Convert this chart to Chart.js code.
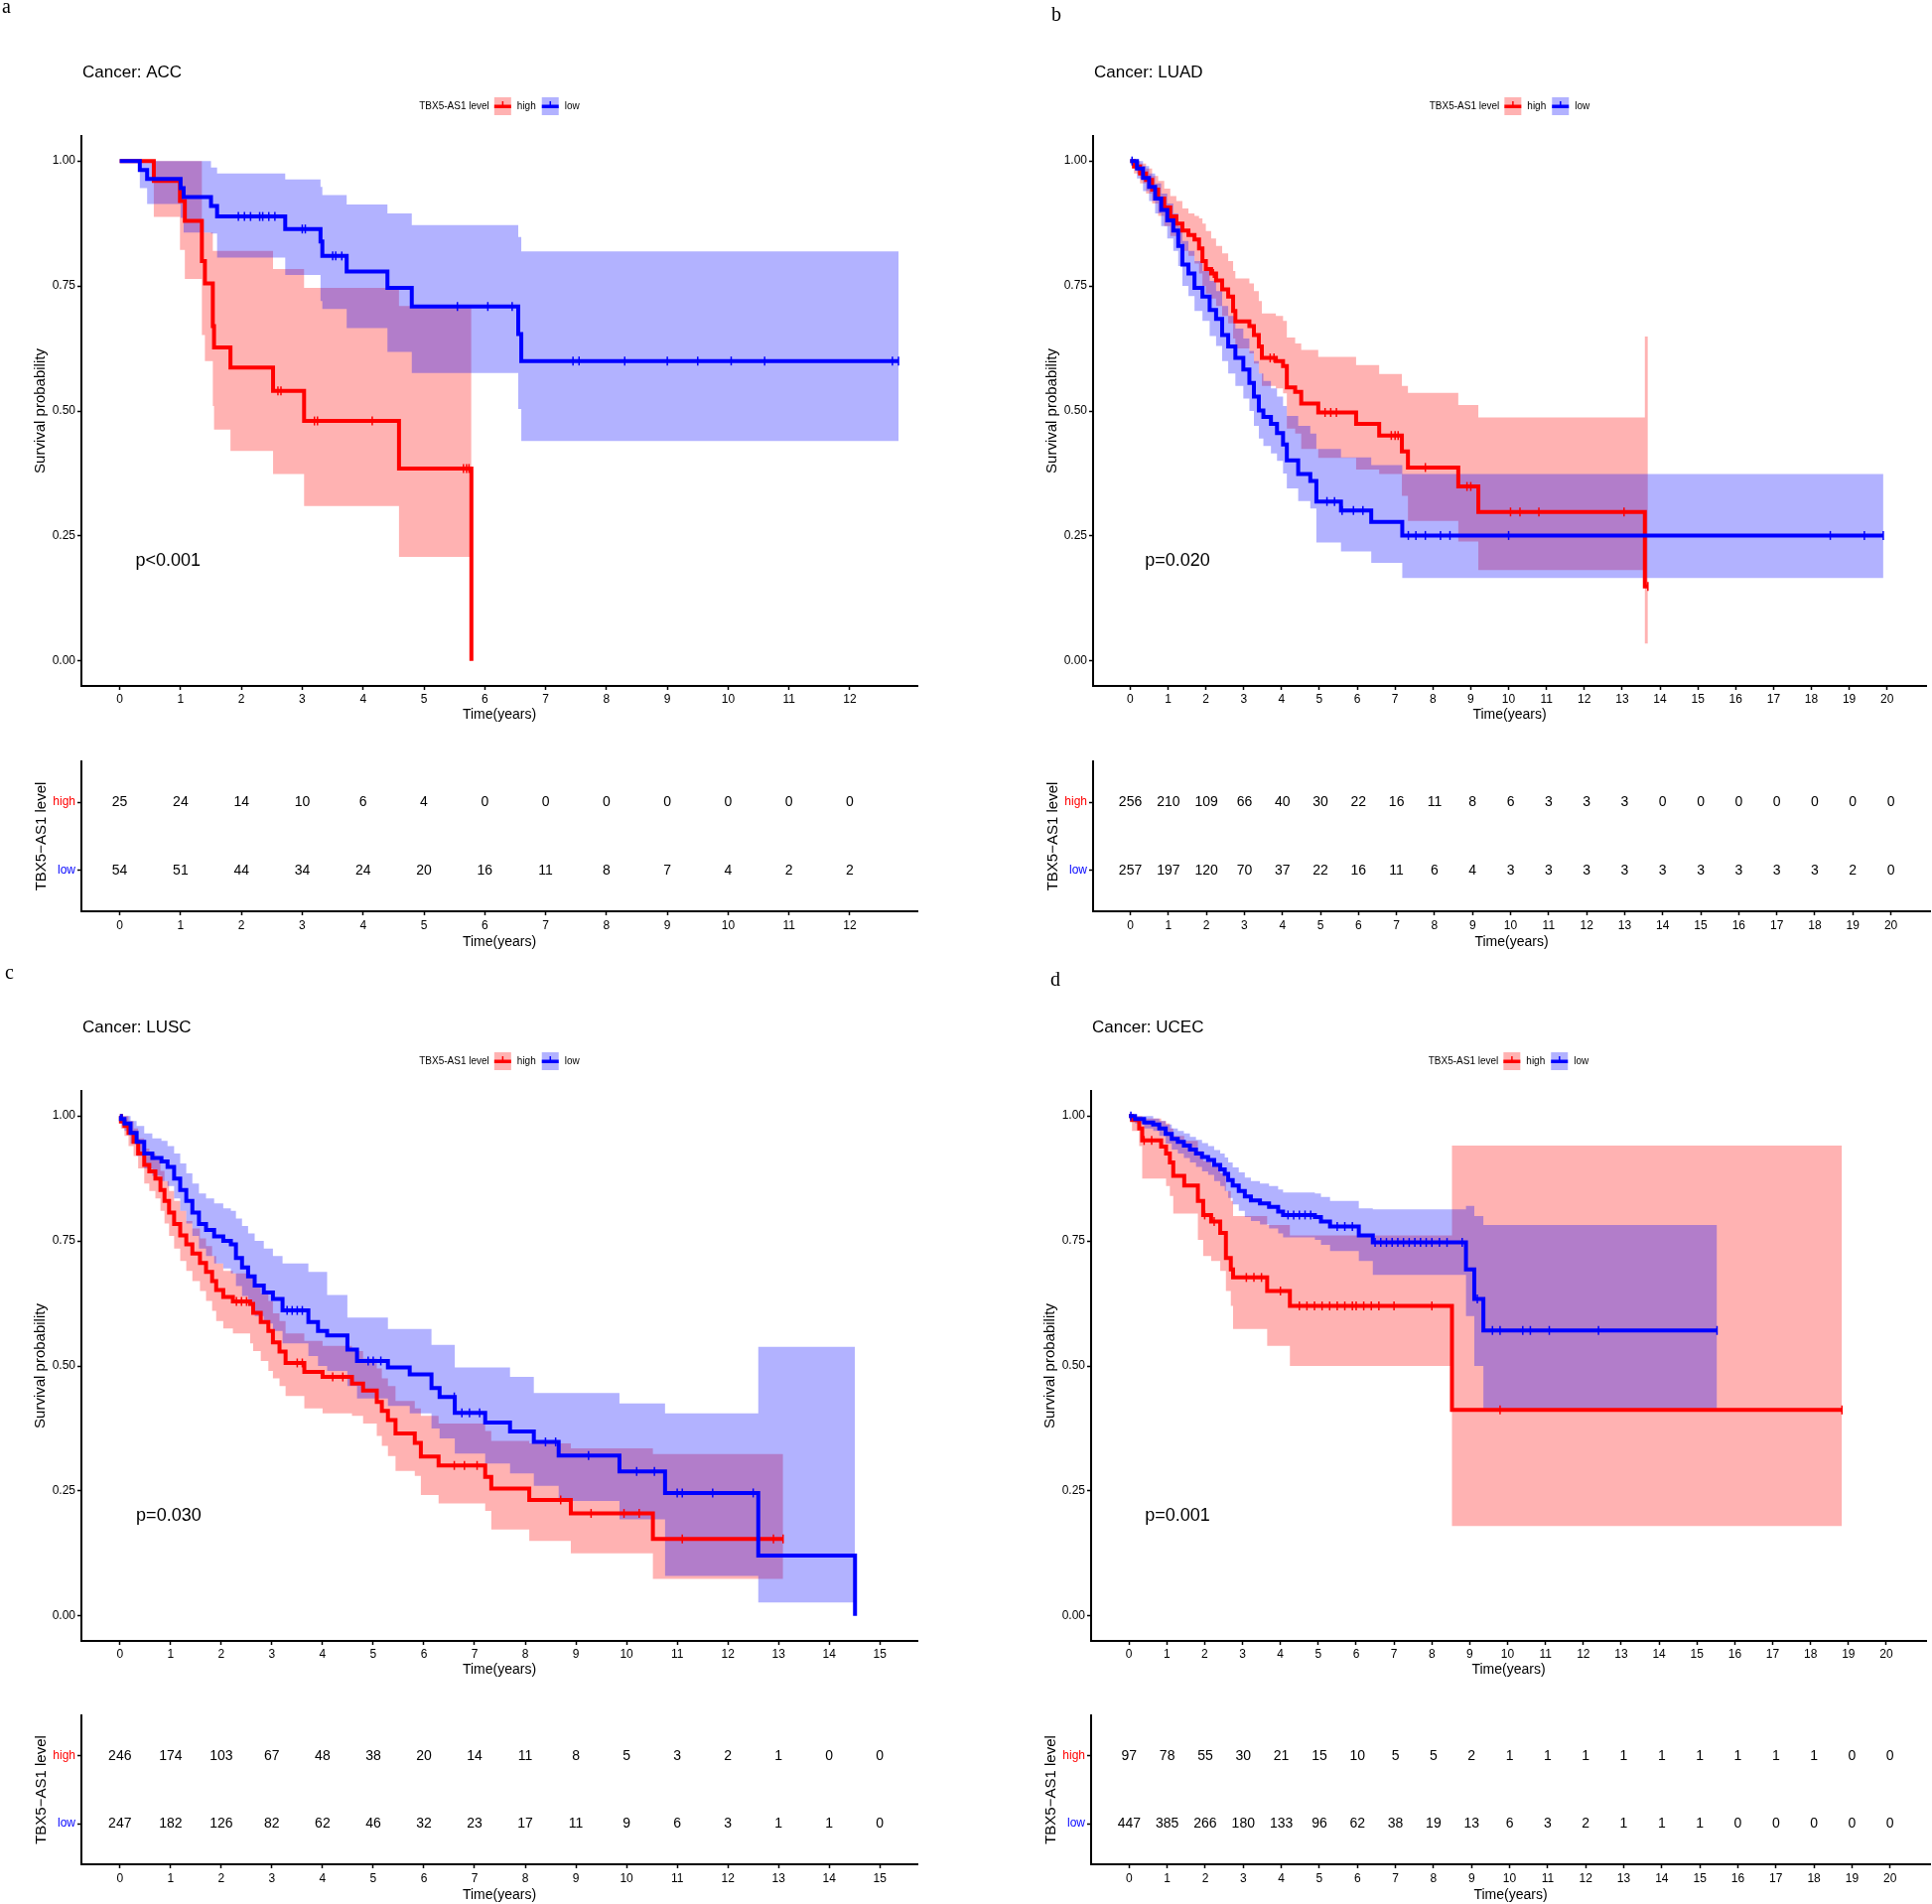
<!DOCTYPE html>
<html>
<head>
<meta charset="utf-8">
<title>TBX5-AS1 level and survival</title>
<script src="https://cdn.jsdelivr.net/npm/chart.js@4.4.1/dist/chart.umd.min.js"></script>
<style>
  html, body { margin: 0; padding: 0; background: #fff; }
  #page { position: relative; width: 1946px; height: 1918px; overflow: hidden; background: #fff; }
  #page canvas { position: absolute; }
</style>
</head>
<body>
<div id="page"></div>
<script>
// ---------- data ----------
const survTicks = [0, 0.25, 0.5, 0.75, 1];

// ACC
const accYears = [0, 1, 2, 3, 4, 5, 6, 7, 8, 9, 10, 11, 12];
const accHighTime = [0, 0.56, 0.99, 1.07, 1.35, 1.4, 1.53, 1.55, 1.82, 2.52, 3.03, 4.59, 5.78];
const accHighSurv = [1, 0.96, 0.92, 0.88, 0.8, 0.755, 0.67, 0.627, 0.587, 0.54, 0.48, 0.385, 0];
const accHighUpper = [1, 1, 1, 1, 0.857, 0.857, 0.82, 0.82, 0.82, 0.784, 0.746, 0.71, 0.71];
const accHighLower = [1, 0.888, 0.822, 0.764, 0.652, 0.6, 0.51, 0.463, 0.42, 0.374, 0.31, 0.208, 0.208];
const accHighCensor = [2.6, 2.65, 3.2, 3.25, 4.15, 5.65, 5.7, 5.74];
const accLowTime = [0, 0.33, 0.45, 1.0, 1.05, 1.5, 1.6, 2.72, 3.3, 3.33, 3.73, 4.4, 4.8, 6.55, 6.6, 12.8];
const accLowSurv = [1, 0.982, 0.964, 0.946, 0.928, 0.91, 0.889, 0.864, 0.839, 0.81, 0.779, 0.746, 0.709, 0.654, 0.6, 0.6];
const accLowUpper = [1, 1, 1, 1, 1, 0.987, 0.975, 0.963, 0.948, 0.932, 0.913, 0.895, 0.872, 0.848, 0.819, 0.819];
const accLowLower = [1, 0.946, 0.914, 0.886, 0.857, 0.855, 0.807, 0.772, 0.72, 0.704, 0.666, 0.618, 0.576, 0.504, 0.44, 0.44];
const accLowCensor = [1.95, 2.05, 2.15, 2.3, 2.35, 2.45, 2.55, 3.0, 3.05, 3.5, 3.55, 3.65, 5.55, 6.05, 6.45, 7.45, 7.55, 8.3, 9.0, 9.5, 10.05, 10.6, 12.7, 12.8];
const accRiskHigh = [25, 24, 14, 10, 6, 4, 0, 0, 0, 0, 0, 0, 0];
const accRiskLow = [54, 51, 44, 34, 24, 20, 16, 11, 8, 7, 4, 2, 2];

// LUAD
const luadYears = [0, 1, 2, 3, 4, 5, 6, 7, 8, 9, 10, 11, 12, 13, 14, 15, 16, 17, 18, 19, 20];
const luadHighTime = [0, 0.1, 0.26, 0.42, 0.58, 0.74, 0.9, 1.06, 1.22, 1.38, 1.54, 1.7, 1.82, 1.91, 2.0, 2.14, 2.27, 2.43, 2.59, 2.72, 2.78, 3.15, 3.27, 3.4, 3.48, 3.85, 4.04, 4.14, 4.36, 4.52, 4.97, 5.97, 6.58, 7.18, 7.34, 8.67, 9.2, 13.6, 13.68];
const luadHighSurv = [1, 0.989, 0.975, 0.962, 0.943, 0.925, 0.907, 0.889, 0.875, 0.861, 0.852, 0.843, 0.825, 0.8, 0.784, 0.775, 0.761, 0.743, 0.729, 0.7, 0.679, 0.67, 0.652, 0.629, 0.606, 0.6, 0.59, 0.547, 0.538, 0.515, 0.497, 0.474, 0.451, 0.419, 0.387, 0.349, 0.298, 0.149, 0.149];
const luadHighUpper = [1, 1, 0.995, 0.985, 0.97, 0.96, 0.945, 0.93, 0.92, 0.905, 0.895, 0.89, 0.885, 0.875, 0.86, 0.845, 0.83, 0.815, 0.8, 0.78, 0.765, 0.755, 0.74, 0.72, 0.695, 0.69, 0.68, 0.647, 0.635, 0.622, 0.608, 0.592, 0.574, 0.55, 0.536, 0.512, 0.487, 0.649, 0.649];
const luadHighLower = [1, 0.975, 0.955, 0.935, 0.915, 0.89, 0.87, 0.85, 0.835, 0.82, 0.81, 0.795, 0.775, 0.75, 0.735, 0.725, 0.71, 0.69, 0.675, 0.645, 0.625, 0.615, 0.595, 0.575, 0.55, 0.545, 0.535, 0.465, 0.455, 0.424, 0.406, 0.383, 0.374, 0.33, 0.28, 0.239, 0.182, 0.035, 0.035];
const luadHighCensor = [2.2, 3.7, 3.8, 5.15, 5.3, 5.45, 6.9, 7.0, 7.08, 7.8, 8.9, 9.0, 10.05, 10.3, 10.8, 13.05, 13.68];
const luadLowTime = [0, 0.05, 0.18, 0.34, 0.5, 0.66, 0.82, 0.98, 1.14, 1.27, 1.38, 1.54, 1.7, 1.91, 2.1, 2.27, 2.43, 2.59, 2.78, 2.99, 3.15, 3.27, 3.4, 3.52, 3.72, 3.88, 4.04, 4.14, 4.44, 4.76, 4.92, 5.57, 6.37, 7.19, 19.9];
const luadLowSurv = [1, 1, 0.985, 0.966, 0.948, 0.925, 0.902, 0.881, 0.861, 0.83, 0.793, 0.775, 0.746, 0.729, 0.702, 0.684, 0.652, 0.629, 0.606, 0.583, 0.556, 0.529, 0.501, 0.488, 0.474, 0.456, 0.433, 0.401, 0.374, 0.36, 0.319, 0.301, 0.278, 0.251, 0.251];
const luadLowUpper = [1, 1, 1, 0.99, 0.975, 0.955, 0.935, 0.915, 0.895, 0.87, 0.84, 0.82, 0.8, 0.78, 0.76, 0.74, 0.71, 0.69, 0.665, 0.645, 0.62, 0.6, 0.575, 0.56, 0.545, 0.529, 0.51, 0.49, 0.47, 0.455, 0.424, 0.407, 0.392, 0.374, 0.374];
const luadLowLower = [1, 1, 0.965, 0.94, 0.92, 0.895, 0.87, 0.845, 0.82, 0.79, 0.75, 0.73, 0.7, 0.68, 0.65, 0.63, 0.6, 0.575, 0.55, 0.525, 0.5, 0.47, 0.445, 0.43, 0.415, 0.4, 0.375, 0.345, 0.32, 0.305, 0.237, 0.219, 0.196, 0.166, 0.166];
const luadLowCensor = [0.05, 5.2, 5.4, 5.6, 5.9, 6.15, 7.35, 7.55, 7.8, 8.2, 8.45, 10.0, 18.5, 19.4, 19.9];
const luadRiskHigh = [256, 210, 109, 66, 40, 30, 22, 16, 11, 8, 6, 3, 3, 3, 0, 0, 0, 0, 0, 0, 0];
const luadRiskLow = [257, 197, 120, 70, 37, 22, 16, 11, 6, 4, 3, 3, 3, 3, 3, 3, 3, 3, 3, 2, 0];

// LUSC
const luscYears = [0, 1, 2, 3, 4, 5, 6, 7, 8, 9, 10, 11, 12, 13, 14, 15];
const luscHighTime = [0, 0.02, 0.09, 0.17, 0.27, 0.36, 0.48, 0.58, 0.7, 0.8, 0.88, 0.97, 1.07, 1.19, 1.31, 1.43, 1.58, 1.7, 1.82, 1.9, 2.04, 2.23, 2.57, 2.63, 2.78, 2.93, 3.02, 3.15, 3.27, 3.64, 4.0, 4.58, 4.8, 5.07, 5.17, 5.29, 5.44, 5.82, 5.94, 6.29, 7.21, 7.33, 8.08, 8.9, 10.52, 13.09];
const luscHighSurv = [1, 0.989, 0.98, 0.966, 0.948, 0.925, 0.902, 0.889, 0.875, 0.852, 0.83, 0.807, 0.784, 0.761, 0.743, 0.725, 0.706, 0.688, 0.67, 0.652, 0.638, 0.629, 0.624, 0.606, 0.588, 0.57, 0.547, 0.529, 0.506, 0.488, 0.478, 0.465, 0.451, 0.428, 0.41, 0.392, 0.365, 0.346, 0.319, 0.301, 0.278, 0.255, 0.232, 0.205, 0.154, 0.154];
const luscHighUpper = [1, 1, 1, 0.99, 0.975, 0.955, 0.935, 0.925, 0.912, 0.89, 0.87, 0.85, 0.83, 0.81, 0.79, 0.775, 0.755, 0.74, 0.72, 0.705, 0.69, 0.685, 0.68, 0.66, 0.645, 0.63, 0.605, 0.59, 0.565, 0.55, 0.54, 0.53, 0.515, 0.495, 0.475, 0.46, 0.43, 0.415, 0.4, 0.385, 0.37, 0.35, 0.345, 0.335, 0.324, 0.324];
const luscHighLower = [1, 0.975, 0.96, 0.94, 0.92, 0.895, 0.865, 0.85, 0.835, 0.81, 0.785, 0.76, 0.735, 0.71, 0.69, 0.67, 0.65, 0.63, 0.61, 0.59, 0.575, 0.565, 0.545, 0.53, 0.51, 0.49, 0.475, 0.46, 0.44, 0.415, 0.405, 0.4, 0.385, 0.36, 0.34, 0.32, 0.29, 0.28, 0.242, 0.225, 0.21, 0.173, 0.15, 0.125, 0.074, 0.074];
const luscHighCensor = [2.3, 2.4, 2.5, 3.5, 3.6, 4.2, 4.4, 6.6, 6.8, 7.05, 8.7, 9.3, 9.95, 10.25, 11.1, 12.9, 13.09];
const luscLowTime = [0, 0.02, 0.09, 0.21, 0.33, 0.48, 0.64, 0.82, 0.94, 1.07, 1.19, 1.31, 1.43, 1.56, 1.7, 1.86, 2.04, 2.19, 2.29, 2.41, 2.53, 2.66, 2.84, 3.02, 3.21, 3.72, 3.91, 4.09, 4.49, 4.68, 5.29, 5.72, 6.15, 6.31, 6.61, 7.21, 7.7, 8.17, 8.66, 9.86, 10.76, 12.6, 14.51];
const luscLowSurv = [1, 0.994, 0.985, 0.966, 0.948, 0.925, 0.916, 0.909, 0.898, 0.875, 0.852, 0.83, 0.807, 0.784, 0.772, 0.759, 0.75, 0.743, 0.716, 0.697, 0.679, 0.661, 0.647, 0.634, 0.611, 0.588, 0.57, 0.561, 0.533, 0.51, 0.497, 0.483, 0.456, 0.438, 0.406, 0.387, 0.369, 0.348, 0.321, 0.289, 0.246, 0.121, 0];
const luscLowUpper = [1, 1, 1, 0.99, 0.98, 0.965, 0.955, 0.95, 0.94, 0.925, 0.905, 0.885, 0.865, 0.845, 0.835, 0.825, 0.815, 0.81, 0.795, 0.78, 0.765, 0.75, 0.735, 0.72, 0.705, 0.688, 0.688, 0.642, 0.597, 0.597, 0.574, 0.574, 0.542, 0.542, 0.497, 0.497, 0.478, 0.446, 0.446, 0.425, 0.405, 0.538, 0.538];
const luscLowLower = [1, 0.985, 0.97, 0.945, 0.92, 0.895, 0.88, 0.87, 0.86, 0.835, 0.81, 0.785, 0.76, 0.735, 0.72, 0.705, 0.695, 0.685, 0.66, 0.64, 0.62, 0.6, 0.585, 0.57, 0.545, 0.52, 0.5, 0.49, 0.46, 0.435, 0.42, 0.405, 0.375, 0.355, 0.325, 0.305, 0.285, 0.26, 0.23, 0.193, 0.08, 0.027, 0.027];
const luscLowCensor = [3.3, 3.4, 3.5, 3.6, 4.9, 5.0, 5.15, 6.6, 6.75, 6.9, 7.1, 8.4, 8.6, 9.25, 10.2, 10.55, 11.0, 11.1, 11.7, 12.5];
const luscRiskHigh = [246, 174, 103, 67, 48, 38, 20, 14, 11, 8, 5, 3, 2, 1, 0, 0];
const luscRiskLow = [247, 182, 126, 82, 62, 46, 32, 23, 17, 11, 9, 6, 3, 1, 1, 0];

// UCEC
const ucecYears = [0, 1, 2, 3, 4, 5, 6, 7, 8, 9, 10, 11, 12, 13, 14, 15, 16, 17, 18, 19, 20];
const ucecHighTime = [0, 0.08, 0.27, 0.35, 0.85, 0.98, 1.08, 1.17, 1.46, 1.82, 1.96, 2.17, 2.41, 2.56, 2.69, 2.75, 3.65, 4.25, 8.53, 18.83];
const ucecHighSurv = [1, 0.992, 0.975, 0.951, 0.939, 0.925, 0.907, 0.88, 0.861, 0.83, 0.802, 0.789, 0.766, 0.716, 0.693, 0.677, 0.65, 0.62, 0.412, 0.412];
const ucecHighUpper = [1, 1, 1, 0.995, 0.99, 0.985, 0.975, 0.96, 0.95, 0.93, 0.91, 0.9, 0.885, 0.85, 0.83, 0.8, 0.782, 0.761, 0.941, 0.941];
const ucecHighLower = [1, 0.97, 0.94, 0.875, 0.875, 0.86, 0.84, 0.805, 0.805, 0.752, 0.72, 0.71, 0.69, 0.65, 0.62, 0.574, 0.54, 0.5, 0.18, 0.18];
const ucecHighCensor = [0.4, 0.6, 2.0, 2.25, 3.1, 3.3, 3.5, 4.0, 4.5, 4.7, 4.9, 5.1, 5.3, 5.5, 5.7, 5.9, 6.0, 6.2, 6.4, 6.6, 7.0, 8.0, 9.8, 18.83];
const ucecLowTime = [0, 0.16, 0.4, 0.64, 0.8, 0.97, 1.13, 1.29, 1.45, 1.61, 1.77, 1.93, 2.09, 2.25, 2.41, 2.53, 2.62, 2.74, 2.9, 3.06, 3.22, 3.46, 3.7, 3.94, 4.07, 4.91, 5.07, 5.31, 6.07, 6.44, 8.9, 9.12, 9.36, 15.53];
const ucecLowSurv = [1, 0.994, 0.987, 0.983, 0.975, 0.964, 0.954, 0.948, 0.941, 0.933, 0.925, 0.918, 0.912, 0.902, 0.893, 0.884, 0.872, 0.861, 0.85, 0.839, 0.831, 0.825, 0.818, 0.809, 0.802, 0.798, 0.789, 0.779, 0.761, 0.747, 0.693, 0.634, 0.571, 0.571];
const ucecLowUpper = [1, 1, 1, 0.995, 0.99, 0.983, 0.975, 0.97, 0.965, 0.958, 0.952, 0.946, 0.94, 0.932, 0.925, 0.917, 0.907, 0.897, 0.887, 0.877, 0.87, 0.865, 0.86, 0.853, 0.847, 0.845, 0.838, 0.83, 0.815, 0.813, 0.82, 0.8, 0.782, 0.782];
const ucecLowLower = [1, 0.985, 0.975, 0.97, 0.96, 0.945, 0.933, 0.925, 0.916, 0.907, 0.898, 0.889, 0.882, 0.87, 0.86, 0.85, 0.836, 0.823, 0.81, 0.798, 0.79, 0.783, 0.775, 0.765, 0.757, 0.752, 0.742, 0.73, 0.71, 0.682, 0.6, 0.5, 0.415, 0.415];
const ucecLowCensor = [0.05, 4.2, 4.35, 4.5, 4.65, 4.8, 5.5, 5.7, 5.9, 6.5, 6.65, 6.8, 6.95, 7.1, 7.25, 7.4, 7.55, 7.7, 7.85, 8.0, 8.2, 8.4, 8.8, 9.2, 9.6, 9.8, 10.4, 10.6, 11.1, 12.4, 15.53];
const ucecRiskHigh = [97, 78, 55, 30, 21, 15, 10, 5, 5, 2, 1, 1, 1, 1, 1, 1, 1, 1, 1, 0, 0];
const ucecRiskLow = [447, 385, 266, 180, 133, 96, 62, 38, 19, 13, 6, 3, 2, 1, 1, 1, 0, 0, 0, 0, 0];

// ---------- styles / layout ----------
const FONT = '"Liberation Sans", Arial, Helvetica, sans-serif';
const HIGH_COLOR = "#ff0000";
const LOW_COLOR = "#0000ff";
const HIGH_BAND = "rgba(255,0,0,0.3)";
const LOW_BAND = "rgba(0,0,255,0.3)";

document.addEventListener("DOMContentLoaded", () => {
  const page = document.getElementById("page");

  const panels = [
    {
      letter: "a", letterPos: [6, 8], cancer: "ACC", pval: "p<0.001", pvalX: 0.26,
      years: accYears, xMin: -0.63, xMax: 13.11,
      high: { time: accHighTime, surv: accHighSurv, upper: accHighUpper, lower: accHighLower, censor: accHighCensor },
      low: { time: accLowTime, surv: accLowSurv, upper: accLowUpper, lower: accLowLower, censor: accLowCensor },
      riskHigh: accRiskHigh, riskLow: accRiskLow,
      km: { left: 0, top: 0, w: 965, h: 735 }, kmArea: { l: 82, t: 137, r: 924, b: 691 },
      risk: { left: 0, top: 735, w: 965, h: 230 }, riskArea: { l: 82, t: 767, r: 924, b: 918 },
    },
    {
      letter: "b", letterPos: [1063, 16], cancer: "LUAD", pval: "p=0.020", pvalX: 0.39,
      years: luadYears, xMin: -0.98, xMax: 21.03,
      high: { time: luadHighTime, surv: luadHighSurv, upper: luadHighUpper, lower: luadHighLower, censor: luadHighCensor },
      low: { time: luadLowTime, surv: luadLowSurv, upper: luadLowUpper, lower: luadLowLower, censor: luadLowCensor },
      riskHigh: luadRiskHigh, riskLow: luadRiskLow,
      km: { left: 980, top: 0, w: 966, h: 735 }, kmArea: { l: 1101, t: 137, r: 1944, b: 691 },
      risk: { left: 980, top: 735, w: 966, h: 230 }, riskArea: { l: 1101, t: 767, r: 1944, b: 918 },
    },
    {
      letter: "c", letterPos: [9, 981], cancer: "LUSC", pval: "p=0.030", pvalX: 0.32,
      years: luscYears, xMin: -0.76, xMax: 15.74,
      high: { time: luscHighTime, surv: luscHighSurv, upper: luscHighUpper, lower: luscHighLower, censor: luscHighCensor },
      low: { time: luscLowTime, surv: luscLowSurv, upper: luscLowUpper, lower: luscLowLower, censor: luscLowCensor },
      riskHigh: luscRiskHigh, riskLow: luscRiskLow,
      km: { left: 0, top: 965, w: 965, h: 725 }, kmArea: { l: 82, t: 1099, r: 924, b: 1653 },
      risk: { left: 0, top: 1690, w: 965, h: 228 }, riskArea: { l: 82, t: 1728, r: 924, b: 1878 },
    },
    {
      letter: "d", letterPos: [1062, 988], cancer: "UCEC", pval: "p=0.001", pvalX: 0.42,
      years: ucecYears, xMin: -1.0, xMax: 21.05,
      high: { time: ucecHighTime, surv: ucecHighSurv, upper: ucecHighUpper, lower: ucecHighLower, censor: ucecHighCensor },
      low: { time: ucecLowTime, surv: ucecLowSurv, upper: ucecLowUpper, lower: ucecLowLower, censor: ucecLowCensor },
      riskHigh: ucecRiskHigh, riskLow: ucecRiskLow,
      km: { left: 980, top: 965, w: 966, h: 725 }, kmArea: { l: 1099, t: 1099, r: 1944, b: 1653 },
      risk: { left: 980, top: 1690, w: 966, h: 228 }, riskArea: { l: 1099, t: 1728, r: 1944, b: 1878 },
    },
  ];

  // !======= helpers =========
  function makeCanvas(box) {
    const c = document.createElement("canvas");
    c.width = box.w;
    c.height = box.h;
    c.style.left = box.left + "px";
    c.style.top = box.top + "px";
    c.style.width = box.w + "px";
    c.style.height = box.h + "px";
    page.appendChild(c);
    return c;
  }

  function pts(times, vals) {
    return times.map((t, i) => ({ x: t, y: vals[i] }));
  }

  function stepValue(times, surv, t) {
    let v = surv[0];
    for (let i = 0; i < times.length; i++) if (times[i] <= t) v = surv[i];
    return v;
  }

  function band(times, vals, color, target, order) {
    return {
      data: pts(times, vals), stepped: "before", borderWidth: 0, borderColor: "rgba(0,0,0,0)",
      backgroundColor: color, pointRadius: 0, fill: target, order: order,
    };
  }

  function curve(times, surv, color, order) {
    return {
      data: pts(times, surv), stepped: "before", borderColor: color, borderWidth: 4,
      borderJoinStyle: "miter", pointRadius: 0, fill: false, order: order,
    };
  }

  function censor(group, color, order) {
    return {
      data: group.censor.map((t) => ({ x: t, y: stepValue(group.time, group.surv, t) })),
      showLine: false, fill: false, borderColor: color, pointStyle: "line", pointRotation: 90,
      pointRadius: 4.5, pointBorderWidth: 1.5, pointBorderColor: color, order: order,
    };
  }

  function axisX(p, box, area, padding) {
    return {
      type: "linear", min: p.xMin, max: p.xMax,
      afterBuildTicks: (s) => { s.ticks = p.years.map((v) => ({ value: v })); },
      afterFit: (s) => { s.height = box.top + box.h - area.b; },
      grid: { drawOnChartArea: false, drawTicks: true, tickLength: 4, tickColor: "#000", tickWidth: 1.5 },
      border: { display: true, color: "#000", width: 2 },
      ticks: { color: "#000", font: { family: FONT, size: 12 }, padding: padding, maxRotation: 0, autoSkip: false, callback: (v) => String(v) },
    };
  }

  function drawKey(ctx, x, cy, line, fillCol) {
    ctx.fillStyle = fillCol;
    ctx.fillRect(x, cy - 9, 17, 18);
    ctx.fillStyle = line;
    ctx.fillRect(x, cy - 1.5, 17, 3.5);
    ctx.fillRect(x + 7.8, cy - 5, 1.5, 5);
  }

  function drawLegend(ctx, cx, cy) {
    ctx.font = "10px " + FONT;
    const label = "TBX5-AS1 level";
    const w0 = ctx.measureText(label).width;
    const w1 = ctx.measureText("high").width;
    const w2 = ctx.measureText("low").width;
    const total = w0 + 5 + 17 + 6 + w1 + 6 + 17 + 6 + w2;
    let x = cx - total / 2;
    ctx.textAlign = "left";
    ctx.textBaseline = "middle";
    ctx.fillStyle = "#000";
    ctx.fillText(label, x, cy);
    x += w0 + 5;
    drawKey(ctx, x, cy, HIGH_COLOR, HIGH_BAND);
    x += 17 + 6;
    ctx.fillStyle = "#000";
    ctx.fillText("high", x, cy);
    x += w1 + 6;
    drawKey(ctx, x, cy, LOW_COLOR, LOW_BAND);
    x += 17 + 6;
    ctx.fillStyle = "#000";
    ctx.fillText("low", x, cy);
  }

  // !======= survival panel =========
  function buildKm(p) {
    const box = p.km, area = p.kmArea;
    const canvas = makeCanvas(box);
    const textPlugin = {
      id: "kmText",
      afterDraw(chart) {
        const ctx = chart.ctx, a = chart.chartArea;
        const xs = chart.scales.x, ys = chart.scales.y;
        ctx.save();
        ctx.fillStyle = "#000";
        ctx.textBaseline = "middle";
        ctx.textAlign = "left";
        ctx.font = '20px "Liberation Serif", "Times New Roman", serif';
        ctx.fillText(p.letter, p.letterPos[0] - box.left - 4, p.letterPos[1] - box.top);
        ctx.font = "17px " + FONT;
        ctx.fillText("Cancer: " + p.cancer, a.left + 1, a.top - 64);
        drawLegend(ctx, (a.left + a.right) / 2, a.top - 30);
        ctx.fillStyle = "#000";
        ctx.textAlign = "left";
        ctx.font = "18px " + FONT;
        ctx.fillText(p.pval, xs.getPixelForValue(p.pvalX), ys.getPixelForValue(0.2));
        ctx.textAlign = "center";
        ctx.font = "14px " + FONT;
        ctx.fillText("Time(years)", (a.left + a.right) / 2, a.bottom + 29);
        ctx.translate(a.left - 41, (a.top + a.bottom) / 2);
        ctx.rotate(-Math.PI / 2);
        ctx.font = "15px " + FONT;
        ctx.fillText("Survival probability", 0, 0);
        ctx.restore();
      },
    };

    new Chart(canvas, {
      type: "line",
      data: {
        datasets: [
          band(p.high.time, p.high.upper, HIGH_BAND, 1, 5),
          band(p.high.time, p.high.lower, HIGH_BAND, false, 5),
          band(p.low.time, p.low.upper, LOW_BAND, 3, 4),
          band(p.low.time, p.low.lower, LOW_BAND, false, 4),
          curve(p.high.time, p.high.surv, HIGH_COLOR, 3),
          curve(p.low.time, p.low.surv, LOW_COLOR, 2),
          censor(p.high, HIGH_COLOR, 1),
          censor(p.low, LOW_COLOR, 0),
        ],
      },
      options: {
        responsive: false, animation: false, devicePixelRatio: 1,
        layout: { padding: { top: area.t - box.top, right: box.left + box.w - area.r, left: 0, bottom: 0 } },
        plugins: { legend: { display: false }, tooltip: { enabled: false } },
        elements: { line: { tension: 0 } },
        scales: {
          x: axisX(p, box, area, 2),
          y: {
            type: "linear", min: -0.05, max: 1.05,
            afterBuildTicks: (s) => { s.ticks = survTicks.map((v) => ({ value: v })); },
            afterFit: (s) => { s.width = area.l - box.left; },
            grid: { drawOnChartArea: false, drawTicks: true, tickLength: 4, tickColor: "#000", tickWidth: 1.5 },
            border: { display: true, color: "#000", width: 2 },
            ticks: { color: "#000", font: { family: FONT, size: 12 }, padding: 2, callback: (v) => v.toFixed(2) },
          },
        },
      },
      plugins: [textPlugin],
    });
  }

  // !======= number-at-risk table =========
  function buildRisk(p) {
    const box = p.risk, area = p.riskArea;
    const canvas = makeCanvas(box);
    const tablePlugin = {
      id: "riskText",
      afterDatasetsDraw(chart) {
        const ctx = chart.ctx, a = chart.chartArea;
        ctx.save();
        ctx.fillStyle = "#000";
        ctx.textAlign = "center";
        ctx.textBaseline = "middle";
        ctx.font = "14px " + FONT;
        chart.data.datasets.forEach((ds, i) => {
          chart.getDatasetMeta(i).data.forEach((el, j) => {
            ctx.fillText(String(ds.data[j].n), el.x, el.y);
          });
        });
        ctx.fillText("Time(years)", (a.left + a.right) / 2, a.bottom + 31);
        ctx.translate(a.left - 40, (a.top + a.bottom) / 2);
        ctx.rotate(-Math.PI / 2);
        ctx.font = "15px " + FONT;
        ctx.fillText("TBX5\u2212AS1 level", 0, 0);
        ctx.restore();
      },
    };

    new Chart(canvas, {
      type: "scatter",
      data: {
        datasets: [
          { data: p.years.map((t, i) => ({ x: t, y: 2, n: p.riskHigh[i] })), pointRadius: 0 },
          { data: p.years.map((t, i) => ({ x: t, y: 1, n: p.riskLow[i] })), pointRadius: 0 },
        ],
      },
      options: {
        responsive: false, animation: false, devicePixelRatio: 1,
        layout: { padding: { top: area.t - box.top, right: box.left + box.w - area.r, left: 0, bottom: 0 } },
        plugins: { legend: { display: false }, tooltip: { enabled: false } },
        scales: {
          x: axisX(p, box, area, 3),
          y: {
            type: "linear", min: 0.4, max: 2.6,
            afterBuildTicks: (s) => { s.ticks = [{ value: 1 }, { value: 2 }]; },
            afterFit: (s) => { s.width = area.l - box.left; },
            grid: { drawOnChartArea: false, drawTicks: true, tickLength: 4, tickColor: "#000", tickWidth: 1.5 },
            border: { display: true, color: "#000", width: 2 },
            ticks: {
              font: { family: FONT, size: 12 }, padding: 2,
              color: (ctx) => (ctx.tick && ctx.tick.value === 2 ? HIGH_COLOR : LOW_COLOR),
              callback: (v) => (v === 2 ? "high" : "low"),
            },
          },
        },
      },
      plugins: [tablePlugin],
    });
  }

  panels.forEach((p) => {
    buildKm(p);
    buildRisk(p);
  });
});
</script>
</body>
</html>
